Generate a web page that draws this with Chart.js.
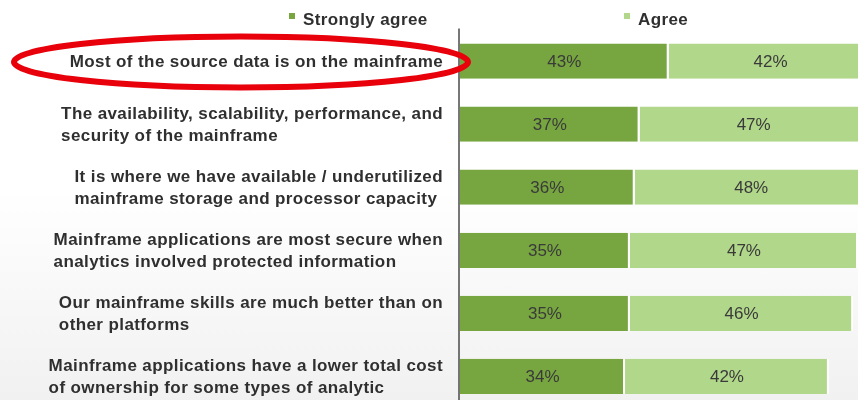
<!DOCTYPE html>
<html><head><meta charset="utf-8">
<script src="https://cdn.jsdelivr.net/npm/chart.js@4.4.1/dist/chart.umd.min.js"></script>
<style>
html,body{margin:0;padding:0;overflow:hidden;width:858px;height:400px;background:linear-gradient(#ffffff 0px,#ffffff 190px,#f1f1f1 400px);}
#wrap{position:relative;width:858px;height:408px;}
</style></head><body>
<div id="wrap"><canvas id="c"></canvas></div>
<script>
const categories = [
  ["Most of the source data is on the mainframe"],
  ["The availability, scalability, performance, and", "security of the mainframe"],
  ["It is where we have available / underutilized", "mainframe storage and processor capacity"],
  ["Mainframe applications are most secure when", "analytics involved protected information"],
  ["Our mainframe skills are much better than on", "other platforms"],
  ["Mainframe applications have a lower total cost", "of ownership for some types of analytic"]
];
const seriesNames = ["Strongly agree", "Agree"];
const stronglyAgree = [43, 37, 36, 35, 35, 34];
const agree = [42, 47, 48, 47, 46, 42];
const highlightedIndex = 0;

const DARK = '#77a640', LIGHT = '#b1d78a';
const LABEL_FONT = 'bold 17px "Liberation Sans", Arial, sans-serif';
const VALUE_FONT = '17px "Liberation Sans", Arial, sans-serif';

const overlay = {
  id: 'overlay',
  afterDraw(chart) {
    const ctx = chart.ctx, ca = chart.chartArea, ys = chart.scales.y;
    ctx.save();
    // axis line
    ctx.strokeStyle = '#4a4a4a'; ctx.lineWidth = 1.5;
    ctx.beginPath(); ctx.moveTo(ca.left - 1, ca.top - 1); ctx.lineTo(ca.left - 1, chart.height); ctx.stroke();
    // value labels
    ctx.font = VALUE_FONT; ctx.fillStyle = '#3a3a3a'; ctx.textAlign = 'center'; ctx.textBaseline = 'middle';
    ctx.letterSpacing = '0px';
    chart.data.datasets.forEach((ds, di) => {
      chart.getDatasetMeta(di).data.forEach((bar, i) => {
        const cx = (bar.x + bar.base) / 2;
        ctx.fillText(ds.data[i] + '%', cx, bar.y + 1);
      });
    });
    // category labels
    ctx.font = LABEL_FONT; ctx.fillStyle = '#2f2f2f'; ctx.textAlign = 'left';
    ctx.letterSpacing = '0.4px';
    const lh = 22, rightEdge = ca.left - 17;
    let firstY = null;
    categories.forEach((lines, i) => {
      const y = ys.getPixelForValue(i);
      const w = Math.max(...lines.map(l => ctx.measureText(l).width));
      const x0 = rightEdge - w;
      lines.forEach((l, j) => ctx.fillText(l, x0, y + 1 + (j - (lines.length - 1) / 2) * lh));
      if (i === highlightedIndex) firstY = y;
    });
    // legend
    const legendX = [289, 624];
    chart.data.datasets.forEach((ds, di) => {
      ctx.fillStyle = ds.backgroundColor;
      ctx.fillRect(legendX[di], 13, 6, 6);
      ctx.fillStyle = '#2f2f2f';
      ctx.fillText(ds.label, legendX[di] + 14, 20);
    });
    // highlight ellipse
    if (firstY !== null) {
      ctx.strokeStyle = '#e8000b'; ctx.lineWidth = 6;
      ctx.beginPath();
      ctx.ellipse(ca.left - 219, firstY + 1, 227, 25.5, 0, 0, Math.PI * 2);
      ctx.stroke();
    }
    ctx.restore();
  }
};

new Chart(document.getElementById('c'), {
  type: 'bar',
  data: {
    labels: categories,
    datasets: [
      { label: seriesNames[0], data: stronglyAgree, backgroundColor: DARK },
      { label: seriesNames[1], data: agree, backgroundColor: LIGHT }
    ]
  },
  options: {
    indexAxis: 'y',
    responsive: true,
    maintainAspectRatio: false,
    animation: false,
    layout: { padding: { left: 460, top: 29.5, right: 0, bottom: 0 } },
    datasets: { bar: { barPercentage: 0.56, categoryPercentage: 1, borderColor: '#ffffff', borderWidth: { right: 2, left: 0, top: 0, bottom: 0 }, borderSkipped: false } },
    scales: {
      x: { stacked: true, display: false, min: 0, max: 82 },
      y: { stacked: true, display: false }
    },
    plugins: { legend: { display: false }, tooltip: { enabled: false } }
  },
  plugins: [overlay]
});
</script>
</body></html>
